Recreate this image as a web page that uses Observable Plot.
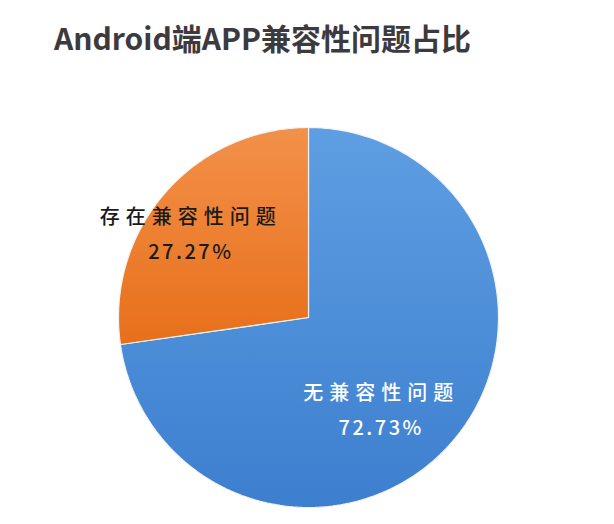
<!DOCTYPE html>
<html><head><meta charset="utf-8">
<script src="https://cdn.jsdelivr.net/npm/d3@7"></script>
<script src="https://cdn.jsdelivr.net/npm/@observablehq/plot@0.6"></script>
<style>
body{margin:0;background:#fff;}
#chart{width:614px;height:524px;}
</style></head>
<body><div id="chart"></div>
<script>
const title = "Android端APP兼容性问题占比";
const categories = ["无兼容性问题", "存在兼容性问题"];
const values = [72.73, 27.27];
const pctLabels = ["72.73%", "27.27%"];
const gradStops = [["#5e9ee2", "#3d7fcf"], ["#f2914a", "#e86f1a"]];
const textColors = ["#ffffff", "#1a1a1a"];

const cx = 308, cy = 317, R = 190;
const arcs = d3.pie().sort(null)(values);
const pts = [];
arcs.forEach((a, i) => {
  const cat = categories[i];
  pts.push({cat, x: 0, y: 0});
  const n = 200;
  for (let k = 0; k <= n; k++) {
    const t = a.startAngle + (a.endAngle - a.startAngle) * k / n;
    pts.push({cat, x: Math.sin(t), y: Math.cos(t)});
  }
  pts.push({cat, x: 0, y: 0});
});

// label anchors from slice mid-angles, with small pixel nudges
const kLab = 0.75;
const labelNudge = [[-35, 0], [-10, -10]];
const labels = arcs.map((a, i) => {
  const m = (a.startAngle + a.endAngle) / 2;
  return {cat: categories[i], pct: pctLabels[i], i,
    x: Math.sin(m) * kLab + labelNudge[i][0] / R,
    y: Math.cos(m) * kLab + labelNudge[i][1] / R};
});

const plot = Plot.plot({
  width: 614, height: 524,
  margin: 0,
  x: {domain: [-1, 1], range: [cx - R, cx + R], axis: null},
  y: {domain: [-1, 1], range: [cy + R, cy - R], axis: null},
  color: {domain: categories, range: ["url(#grad0)", "url(#grad1)"]},
  style: {background: "#fff"},
  marks: [
    Plot.line(pts, {x: "x", y: "y", z: "cat", fill: "cat", stroke: "#f2f2f2", strokeWidth: 1.2, strokeLinejoin: "round"}),
    Plot.text(labels, {x: "x", y: "y", text: "cat", fill: d => textColors[d.i], fontSize: 20,
      dy: -17, fontFamily: "Noto Sans CJK SC", fontWeight: 500}),
    Plot.text(labels, {x: "x", y: "y", text: "pct", fill: d => textColors[d.i], fontSize: 20,
      dy: 18, fontFamily: "Noto Sans CJK SC", fontWeight: 500}),
    Plot.text([title], {frameAnchor: "top", dx: -45, dy: 40, lineAnchor: "middle", fontSize: 30,
      fontWeight: "bold", fill: "#3c3a3e", fontFamily: "Noto Sans CJK SC"})
  ]
});
// vertical gradients for the slices (each over its own bounding box)
const ns = "http://www.w3.org/2000/svg";
const defs = document.createElementNS(ns, "defs");
gradStops.forEach((s, i) => {
  const g = document.createElementNS(ns, "linearGradient");
  g.setAttribute("id", "grad" + i);
  g.setAttribute("x1", "0"); g.setAttribute("x2", "0");
  g.setAttribute("y1", "0"); g.setAttribute("y2", "1");
  s.forEach((c, j) => {
    const st = document.createElementNS(ns, "stop");
    st.setAttribute("offset", j ? "1" : "0");
    st.setAttribute("stop-color", c);
    g.appendChild(st);
  });
  defs.appendChild(g);
});
plot.insertBefore(defs, plot.firstChild);
const tg = plot.querySelectorAll('g[aria-label="text"]');
if (tg[0]) tg[0].setAttribute("letter-spacing", "6");
if (tg[1]) tg[1].setAttribute("letter-spacing", "2.5");
document.getElementById("chart").append(plot);
</script></body></html>
